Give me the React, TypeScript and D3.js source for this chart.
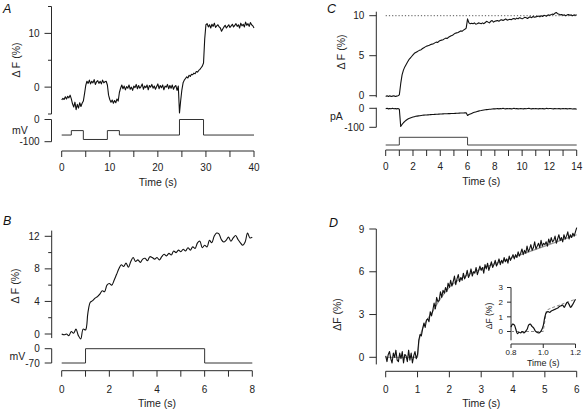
import React from 'react';
import * as d3 from 'd3';

const W = 588;
const H = 416;
const FONT = '"Liberation Sans", Arial, Helvetica, sans-serif';

// ---------- Panel A ----------
const A_DT = 0.25;
const A_dF = [
  -2.4, -2.1, -2.3, -1.8, -2.2, -1.7, -2.0, -1.5, -2.2,
  -3.1, -3.7, -2.8, -4.2, -3.2, -3.9, -2.9, -3.6, -3.0, -2.6,
  -1.2, 0.3, 1.1,
  0.7, 1.3, 0.6, 1.1, 0.8, 1.4, 0.5, 1.0, 1.2, 0.7, 1.1, 0.6, 1.3, 0.8, 1.0, 1.1, 0.4,
  -1.5, -2.3, -2.8, -2.4, -3.0, -2.5, -2.9, -2.2, -2.6,
  -1.0, -0.2, 0.4,
  -0.3, 0.2, -0.5, 0.1, -0.2, 0.4, -0.4, 0.0, -0.6, 0.2,
  -0.1, 0.5, -0.3, 0.3, -0.2, 0.1, 0.6, -0.4, 0.2, -0.1,
  0.4, -0.5, 0.3, 0.0, 0.5, -0.2, 0.2, -0.4, 0.1, 0.6,
  -0.3, 0.3, -0.1, 0.4, -0.5, 0.2, 0.0, 0.5, -0.3, 0.3,
  -0.2, 0.4, -0.4, 0.1, 0.3, -0.6, 0.2,
  -4.8, -2.5, -0.5, 0.8, 1.3,
  1.6, 1.9, 1.7, 2.2, 2.0, 2.4, 2.3, 2.6, 2.5, 2.9, 2.8, 3.1,
  3.3, 3.6, 3.9,
  4.5, 9.0, 11.6,
  11.8, 11.2, 11.6, 11.0, 11.7, 11.3, 11.9, 11.1, 11.4, 11.6,
  11.2, 11.0, 10.4, 10.8, 11.2, 11.5, 11.0, 11.3, 11.6, 11.1,
  11.4, 11.7, 11.2, 11.5, 11.8, 11.3, 11.6, 11.0, 11.9, 11.4,
  11.7, 11.2, 12.1, 11.5, 11.8, 11.3, 12.0, 11.6, 11.4, 11.0,
];
const A_stepT = [0, 2, 4.5, 9.5, 12, 24.5, 29.5, 40];
const A_stepMV = [-70, -50, -90, -50, -70, 0, -70, -70];
const A_xTicks = [0, 10, 20, 30, 40];
const A_xMinor = [5, 15, 25, 35];
const A_yTicks = [0, 10];
const A_yMinor = [-5, 5, 15];
const A_mvTicks = [0, -100];

// ---------- Panel B ----------
const B_DT = 0.1;
const B_dF = [
  0.0, -0.1, 0.0, -0.2, 0.3, 0.1, 0.6, -0.2, -0.6, 0.6,
  0.5, 2.6, 3.9, 4.1, 4.4, 4.6, 4.9, 5.3, 5.2, 6.0,
  6.2, 6.0, 6.6, 7.3, 8.0, 8.5, 8.3, 8.7, 8.2, 8.9,
  9.4, 8.9, 9.1, 8.8, 9.2, 9.3, 9.0, 9.5, 9.4, 9.2,
  9.4, 9.1, 9.5, 9.8, 9.6, 9.9, 9.7, 10.2, 10.0, 10.3,
  10.1, 10.4, 10.2, 10.6, 10.3, 10.7, 10.5, 11.2, 11.4, 10.6,
  10.9, 10.7, 11.5, 11.2, 12.0, 12.4, 12.3, 11.6, 11.3, 11.5,
  11.9, 11.4, 11.8, 12.1, 11.6, 11.2, 10.9, 11.3, 12.4, 11.8,
  11.9,
];
const B_stepT = [0, 1, 6, 8];
const B_stepMV = [-70, 0, -70, -70];
const B_xTicks = [0, 1, 2, 3, 4, 5, 6, 7, 8];
const B_xLabels = [0, 2, 4, 6, 8];
const B_yTicks = [0, 4, 8, 12];
const B_yMinor = [2, 6, 10];
const B_mvTicks = [0, -70];

// ---------- Panel C ----------
const C_DT = 0.1;
const C_dF = [
  -0.1, 0.0, -0.1, 0.0, -0.1, -0.05, 0.0, -0.1, -0.05, 0.0, 0.1,
  1.5, 2.6, 3.2, 3.6, 3.9, 4.2, 4.5, 4.7, 4.9, 5.1,
  5.3, 5.4, 5.5, 5.6, 5.7, 5.75, 5.9, 6.0, 6.1, 6.2,
  6.25, 6.3, 6.4, 6.45, 6.5, 6.6, 6.7, 6.65, 6.8, 6.9,
  6.95, 7.0, 7.1, 7.2, 7.15, 7.3, 7.4, 7.5, 7.55, 7.7,
  7.8, 7.85, 7.9, 8.0, 8.1, 8.05, 8.2, 8.3, 8.45, 9.6,
  9.1, 9.0, 9.05, 9.0, 9.1, 8.95, 9.0, 9.1, 9.05, 9.0,
  9.1, 9.0, 9.15, 9.3, 9.2, 9.1, 9.3, 9.4, 9.2, 9.3,
  9.35, 9.4, 9.3, 9.45, 9.5, 9.4, 9.5, 9.6, 9.45, 9.5,
  9.55, 9.5, 9.6, 9.65, 9.55, 9.7, 9.6, 9.75, 9.7, 9.6,
  9.7, 9.8, 9.75, 9.65, 9.8, 9.85, 9.75, 9.9, 9.8, 9.85,
  9.9, 9.95, 9.85, 10.0, 9.9, 10.05, 10.0, 9.95, 10.1, 10.05,
  10.1, 10.2, 10.15, 10.3, 10.4, 10.25, 10.2, 10.1, 10.15, 10.05,
  10.1, 10.0, 10.1, 10.15, 10.05, 10.1, 10.0, 10.1, 10.05, 10.1,
];
const C_pA = [
  -2, 0, -3, -1, -2, 0, -2, -1, -3, -1, -5,
  -95, -85, -76, -69, -63, -58, -54, -51, -48, -46,
  -44, -42, -41, -40, -39, -38, -37, -36, -35.5, -35,
  -34.5, -34, -33.5, -33, -32.5, -32, -31.5, -31, -30.5, -30,
  -30, -29.5, -29, -29, -28.5, -28, -28, -27.5, -27, -27,
  -26.5, -26, -26, -25.5, -25, -25, -24.5, -24, -24, -38,
  -33, -30, -27, -24, -21, -19, -17, -15, -13, -12,
  -10, -9, -8, -7, -6, -5, -5, -4, -3, -3,
  -2, -1, -3, -1, -2, 0, -2, -3, -1, -2,
  -1, -3, -2, 0, -2, -1, -3, -2, -1, -2,
  -3, -1, -2, -1, 0, -2, -3, -1, -2, -1,
  -2, -3, -1, -2, -1, -3, -2, 0, -2, -1,
  -1, -2, -3, -1, -2, -2, -1, -3, -2, -1,
  -2, -1, -3, -2, -1, -2, -4, -2, -3, -5,
];
const C_refLevel = 10;
const C_stimT = [0, 1, 6, 14];
const C_stimLevel = [0, 1, 0, 0];
const C_xTicks = [0, 1, 2, 3, 4, 5, 6, 7, 8, 9, 10, 11, 12, 13, 14];
const C_xLabels = [0, 2, 4, 6, 8, 10, 12, 14];
const C_yTicks = [0, 5, 10];
const C_pATicks = [0, -100];

// ---------- Panel D ----------
const D_DT = 0.04;
const D_dF = [
  0.1, -0.3, 0.2, 0.4, -0.1, -0.4, 0.3, 0.0, 0.5, -0.2,
  -0.3, 0.3, -0.1, 0.4, -0.4, 0.2, 0.1, -0.3, 0.5, -0.2,
  0.3, -0.4, 0.1, 0.4, -0.1, 0.2,
  1.2, 1.6, 1.5, 2.0, 2.4, 2.1, 2.6, 2.7, 2.5, 3.2,
  2.9, 3.3, 3.8, 3.4, 4.2, 3.9, 4.0, 4.6, 4.2, 4.7,
  4.5, 4.9, 4.6, 5.2, 4.9,
  5.4, 5.0, 5.3, 5.7, 5.1, 5.5, 5.8, 5.3, 5.6, 5.4,
  5.9, 5.5, 5.7, 6.1, 5.6, 5.8, 6.2, 5.7, 6.0, 5.9,
  6.3, 5.8, 6.1, 6.4, 6.1,
  6.3, 5.9, 6.5, 6.2, 6.6, 6.1, 6.4, 6.7, 6.3, 6.5,
  6.8, 6.4, 6.6, 6.9, 6.5, 6.8, 6.6, 7.0, 6.7, 6.9,
  6.6, 7.1, 6.8, 7.0, 7.2,
  6.9, 7.2, 7.0, 7.4, 7.1, 7.3, 7.6, 7.2, 7.5, 7.3,
  7.8, 7.4, 7.6, 7.9, 7.5, 7.7, 8.1, 7.6, 7.8, 8.0,
  7.7, 8.2, 7.8, 8.0, 7.9,
  8.1, 7.8, 8.3, 8.0, 8.4, 8.1, 8.2, 8.5, 8.0, 8.3,
  8.6, 8.2, 8.4, 8.1, 8.6, 8.3, 8.5, 8.8, 8.3, 8.6,
  8.4, 8.7, 8.5, 8.8, 9.1,
];
const D_fitT = [0, 1, 1.05, 1.5, 2, 2.5, 3, 4, 5, 6];
const D_fitV = [0, 0, 1.2, 3.3, 4.9, 5.7, 6.2, 7.0, 7.8, 8.6];
const D_xTicks = [0, 1, 2, 3, 4, 5, 6];
const D_yTicks = [0, 3, 6, 9];

// ---------- Inset of D ----------
const I_T0 = 0.8;
const I_DT = 0.01;
const I_dF = [
  0.3, 0.5, 0.45, 0.15, -0.15, -0.05, -0.1, 0.0, -0.1, 0.0,
  0.15, 0.45, 0.5, 0.35, 0.25, 0.05, -0.05, -0.1, -0.05, 0.1,
  0.4, 1.0, 1.3, 1.35, 1.3, 1.4, 1.45, 1.5, 1.55, 1.6,
  1.7, 1.75, 1.8, 1.65, 1.85, 2.0, 1.85, 1.65, 1.8, 2.0,
  2.2,
];
const I_fitT = [0.8, 1.0, 1.02, 1.05, 1.1, 1.15, 1.2];
const I_fitV = [0, 0, 1.45, 1.6, 1.8, 2.0, 2.2];
const I_xLabels = [0.8, 1.0, 1.2];
const I_yTicks = [0, 1, 2, 3];

// ---------- scales ----------
const xA = d3.scaleLinear().domain([0, 40]).range([61.7, 254]);
const yA = d3.scaleLinear().domain([-5, 15]).range([114, 6.5]);
const mA = d3.scaleLinear().domain([-100, 0]).range([141.7, 119.5]);

const xB = d3.scaleLinear().domain([0, 8]).range([61.7, 252.3]);
const yB = d3.scaleLinear().domain([0, 12]).range([334, 236.3]);
const mB = d3.scaleLinear().domain([-70, 0]).range([363, 348.7]);

const xC = d3.scaleLinear().domain([0, 14]).range([385.7, 576.7]);
const yC = d3.scaleLinear().domain([0, 10]).range([95.7, 15.7]);
const pC = d3.scaleLinear().domain([-100, 0]).range([127.3, 108.3]);
const sC = d3.scaleLinear().domain([0, 1]).range([145, 137.3]);

const xD = d3.scaleLinear().domain([0, 6]).range([385.7, 576.7]);
const yD = d3.scaleLinear().domain([0, 9]).range([357.3, 229]);

const xI = d3.scaleLinear().domain([0.8, 1.2]).range([511, 575.5]);
const yI = d3.scaleLinear().domain([0, 3]).range([331.5, 287.5]);

type S = d3.ScaleLinear<number, number>;
const AX = '#2a2a2a';
const TR = '#111';

function pathOf(xs: S, ys: S, t: number[], v: number[], curve: d3.CurveFactory = d3.curveLinear) {
  const pts: [number, number][] = t.map((tt, i) => [tt, v[i]]);
  return d3.line<[number, number]>().x(d => xs(d[0])).y(d => ys(d[1])).curve(curve)(pts) || '';
}
function series(xs: S, ys: S, t0: number, dt: number, v: number[], curve: d3.CurveFactory = d3.curveLinear) {
  return pathOf(xs, ys, v.map((_, i) => t0 + i * dt), v, curve);
}

function YAxis(props: {
  x: number; s: S; from: number; to: number; major: number[]; minor?: number[];
  labels?: number[]; fmt?: (v: number) => string; fs?: number; tl?: number; ml?: number; lo?: number;
}) {
  const { x, s, from, to, major, minor = [], labels = major, fmt = (v: number) => String(v), fs = 10, tl = 7, ml = 3.5, lo = 12 } = props;
  return (
    <g>
      <line x1={x} x2={x} y1={s(from)} y2={s(to)} stroke={AX} strokeWidth={1} />
      {major.map(v => <line key={'M' + v} x1={x - tl} x2={x} y1={s(v)} y2={s(v)} stroke={AX} strokeWidth={1} />)}
      {minor.map(v => <line key={'m' + v} x1={x - ml} x2={x} y1={s(v)} y2={s(v)} stroke={AX} strokeWidth={1} />)}
      {labels.map(v => (
        <text key={'L' + v} x={x - lo} y={s(v)} dy="0.36em" textAnchor="end" fontSize={fs} fill="#222">{fmt(v)}</text>
      ))}
    </g>
  );
}

function XAxis(props: {
  y: number; s: S; from: number; to: number; ticks: number[]; labels?: number[];
  fmt?: (v: number) => string; fs?: number; tl?: number; lb?: number;
}) {
  const { y, s, from, to, ticks, labels = ticks, fmt = (v: number) => String(v), fs = 10, tl = 6, lb = 19.5 } = props;
  return (
    <g>
      <line x1={s(from)} x2={s(to)} y1={y} y2={y} stroke={AX} strokeWidth={1} />
      {ticks.map(v => <line key={'T' + v} x1={s(v)} x2={s(v)} y1={y} y2={y + tl} stroke={AX} strokeWidth={1} />)}
      {labels.map(v => (
        <text key={'L' + v} x={s(v)} y={y + lb} textAnchor="middle" fontSize={fs} fill="#222">{fmt(v)}</text>
      ))}
    </g>
  );
}

function VLabel({ x, y, text, fs = 10.5 }: { x: number; y: number; text: string; fs?: number }) {
  return (
    <text x={x} y={y} transform={`rotate(-90 ${x} ${y})`} textAnchor="middle" dy="0.35em" fontSize={fs} fill="#222">{text}</text>
  );
}

export default function App() {
  const f1 = d3.format('.1f');
  return (
    <svg width={W} height={H} viewBox={`0 0 ${W} ${H}`}
      style={{ position: 'absolute', left: 0, top: 0, background: '#fff' }}
      fontFamily={FONT}>
      <rect x={0} y={0} width={W} height={H} fill="#fff" />

      {/* ===== Panel A ===== */}
      <text x={3} y={12.7} fontSize={12.5} fontStyle="italic" fill="#111">A</text>
      <YAxis x={51.5} s={yA} from={-5} to={15} major={A_yTicks} minor={A_yMinor} />
      <YAxis x={51.5} s={mA} from={-100} to={0} major={A_mvTicks} />
      <VLabel x={16} y={60} text="Δ F (%)" />
      <text x={12} y={134} fontSize={10.5} fill="#222">mV</text>
      <path d={series(xA, yA, 0, A_DT, A_dF)} fill="none" stroke={TR} strokeWidth={1.1} strokeLinejoin="round" />
      <path d={pathOf(xA, mA, A_stepT, A_stepMV, d3.curveStepAfter)} fill="none" stroke="#333" strokeWidth={1} />
      <XAxis y={151} s={xA} from={0} to={40} ticks={[...A_xTicks, ...A_xMinor]} labels={A_xTicks} />
      <text x={(xA(0) + xA(40)) / 2} y={185.5} textAnchor="middle" fontSize={10.5} fill="#222">Time (s)</text>

      {/* ===== Panel B ===== */}
      <text x={3} y={225} fontSize={12.5} fontStyle="italic" fill="#111">B</text>
      <YAxis x={51.7} s={yB} from={-0.5} to={12.7} major={B_yTicks} minor={B_yMinor} />
      <YAxis x={51.7} s={mB} from={-70} to={0} major={B_mvTicks} />
      <VLabel x={15} y={286} text="Δ F (%)" />
      <text x={9.5} y={359.5} fontSize={10.5} fill="#222">mV</text>
      <path d={series(xB, yB, 0, B_DT, B_dF, d3.curveCatmullRom)} fill="none" stroke={TR} strokeWidth={1.1} strokeLinejoin="round" />
      <path d={pathOf(xB, mB, B_stepT, B_stepMV, d3.curveStepAfter)} fill="none" stroke="#333" strokeWidth={1} />
      <XAxis y={370.7} s={xB} from={0} to={8} ticks={B_xTicks} labels={B_xLabels} lb={22} />
      <text x={(xB(0) + xB(8)) / 2} y={406.5} textAnchor="middle" fontSize={10.5} fill="#222">Time (s)</text>

      {/* ===== Panel C ===== */}
      <text x={327} y={12.7} fontSize={12.5} fontStyle="italic" fill="#111">C</text>
      <YAxis x={376.3} s={yC} from={-0.2} to={10.5} major={C_yTicks} />
      <YAxis x={376.3} s={pC} from={-100} to={3} major={C_pATicks} />
      <VLabel x={341} y={52} text="Δ F (%)" />
      <text x={330} y={119.5} fontSize={10.5} fill="#222">pA</text>
      <line x1={xC(0)} x2={xC(14)} y1={yC(C_refLevel)} y2={yC(C_refLevel)} stroke="#555" strokeWidth={1} strokeDasharray="1.2 2" />
      <path d={series(xC, yC, 0, C_DT, C_dF)} fill="none" stroke={TR} strokeWidth={1.1} strokeLinejoin="round" />
      <path d={series(xC, pC, 0, C_DT, C_pA)} fill="none" stroke={TR} strokeWidth={1.1} strokeLinejoin="round" />
      <path d={pathOf(xC, sC, C_stimT, C_stimLevel, d3.curveStepAfter)} fill="none" stroke="#444" strokeWidth={1} />
      <XAxis y={150} s={xC} from={0} to={14} ticks={C_xTicks} labels={C_xLabels} lb={20} />
      <text x={(xC(0) + xC(14)) / 2} y={185} textAnchor="middle" fontSize={10.5} fill="#222">Time (s)</text>

      {/* ===== Panel D ===== */}
      <text x={329} y={226.5} fontSize={12.5} fontStyle="italic" fill="#111">D</text>
      <YAxis x={376.3} s={yD} from={-0.5} to={9} major={D_yTicks} />
      <VLabel x={337.5} y={314.5} text="ΔF (%)" />
      <path d={pathOf(xD, yD, D_fitT, D_fitV, d3.curveMonotoneX)} fill="none" stroke="#9a9a9a" strokeWidth={1.2} />
      <path d={series(xD, yD, 0, D_DT, D_dF)} fill="none" stroke={TR} strokeWidth={1.1} strokeLinejoin="round" />
      <XAxis y={371.3} s={xD} from={0} to={6} ticks={D_xTicks} lb={22} />
      <text x={(xD(0) + xD(6)) / 2} y={406.5} textAnchor="middle" fontSize={10.5} fill="#222">Time (s)</text>

      {/* Inset */}
      <YAxis x={511} s={yI} from={-0.6} to={3} major={I_yTicks} fs={8} tl={4} lo={8} />
      <VLabel x={489} y={316} text="ΔF (%)" fs={8.5} />
      <path d={pathOf(xI, yI, I_fitT, I_fitV)} fill="none" stroke="#888" strokeWidth={1} strokeDasharray="3 2" />
      <path d={series(xI, yI, I_T0, I_DT, I_dF, d3.curveCatmullRom)} fill="none" stroke={TR} strokeWidth={1.2} strokeLinejoin="round" />
      <XAxis y={344} s={xI} from={0.8} to={1.2} ticks={I_xLabels} labels={I_xLabels} fmt={f1} fs={8} tl={4} lb={11} />
      <text x={(xI(0.8) + xI(1.2)) / 2} y={365.5} textAnchor="middle" fontSize={9} fill="#222">Time (s)</text>
    </svg>
  );
}
